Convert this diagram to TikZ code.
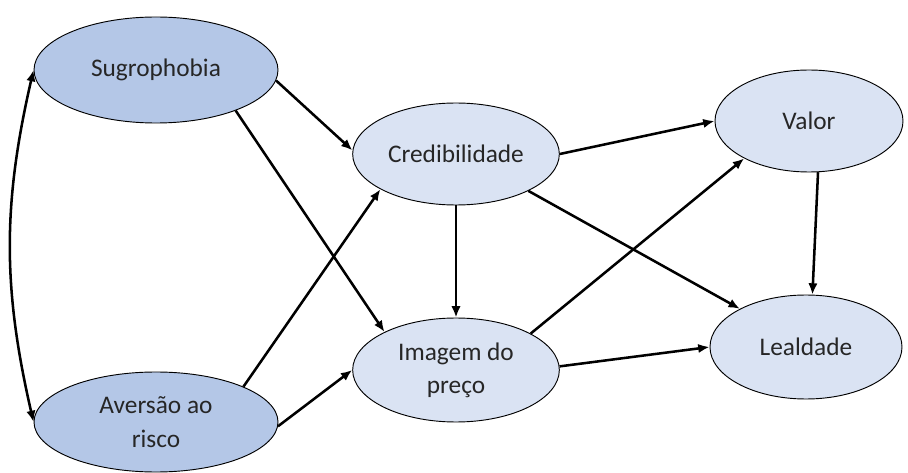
\documentclass[tikz,border=0pt]{standalone}
\usepackage{fontspec}
\setmainfont{Carlito}
\usepackage{tikz}
\usetikzlibrary{shapes.geometric,arrows.meta,positioning}

\definecolor{darkfill}{HTML}{B4C7E7}
\definecolor{lightfill}{HTML}{DAE3F3}

\begin{document}
\begin{tikzpicture}[x=0.75pt,y=0.75pt,
  construct/.style={ellipse,draw=black,line width=0.7pt,align=center,
    font=\fontsize{19}{25}\selectfont,text=black!85},
  exo/.style={construct,fill=darkfill},
  endo/.style={construct,fill=lightfill},
  path/.style={line width=1.9pt,-{Latex[length=8.5pt,width=7pt]}}]
\useasboundingbox (0,0) rectangle (908,472);

% Exogenous constructs (sizes in pt, 1px = 0.75pt)
\node[exo,minimum width=183pt,minimum height=79.5pt] (sug) at (156,402) {Sugrophobia};
\node[exo,minimum width=183pt,minimum height=75pt] (aver) at (156,50) {Aversão ao\\risco};

% Mediators
\node[endo,minimum width=155pt,minimum height=76.5pt] (cred) at (456,318) {Credibilidade};
\node[endo,minimum width=155pt,minimum height=78pt] (img) at (456,102) {Imagem do\\preço};

% Outcomes
\node[endo,minimum width=141pt,minimum height=76.5pt] (valor) at (809,351) {Valor};
\node[endo,minimum width=144pt,minimum height=78pt] (leal) at (806,125) {Lealdade};

% Correlation between exogenous constructs
\draw[line width=1.9pt,{Latex[length=8.5pt,width=7pt]}-{Latex[length=8.5pt,width=7pt]}]
  (sug.180) to[out=-103,in=103] (aver.180);

% Structural paths
\draw[path] (sug.-5) -- (cred.178);
\draw[path] (sug.-27) -- (img.152);
\draw[path] (aver.22) -- (cred.205);
\draw[path] (aver.-2) -- (img.180);
\draw[path] (cred.south) -- (img.north);
\draw[path] (cred.0) -- (valor.180);
\draw[path] (cred.-27) -- (leal.150);
\draw[path] (img.26) -- (valor.210);
\draw[path] (img.2) -- (leal.180);
\draw[path] (valor.-80) -- (leal.83);
\end{tikzpicture}
\end{document}
